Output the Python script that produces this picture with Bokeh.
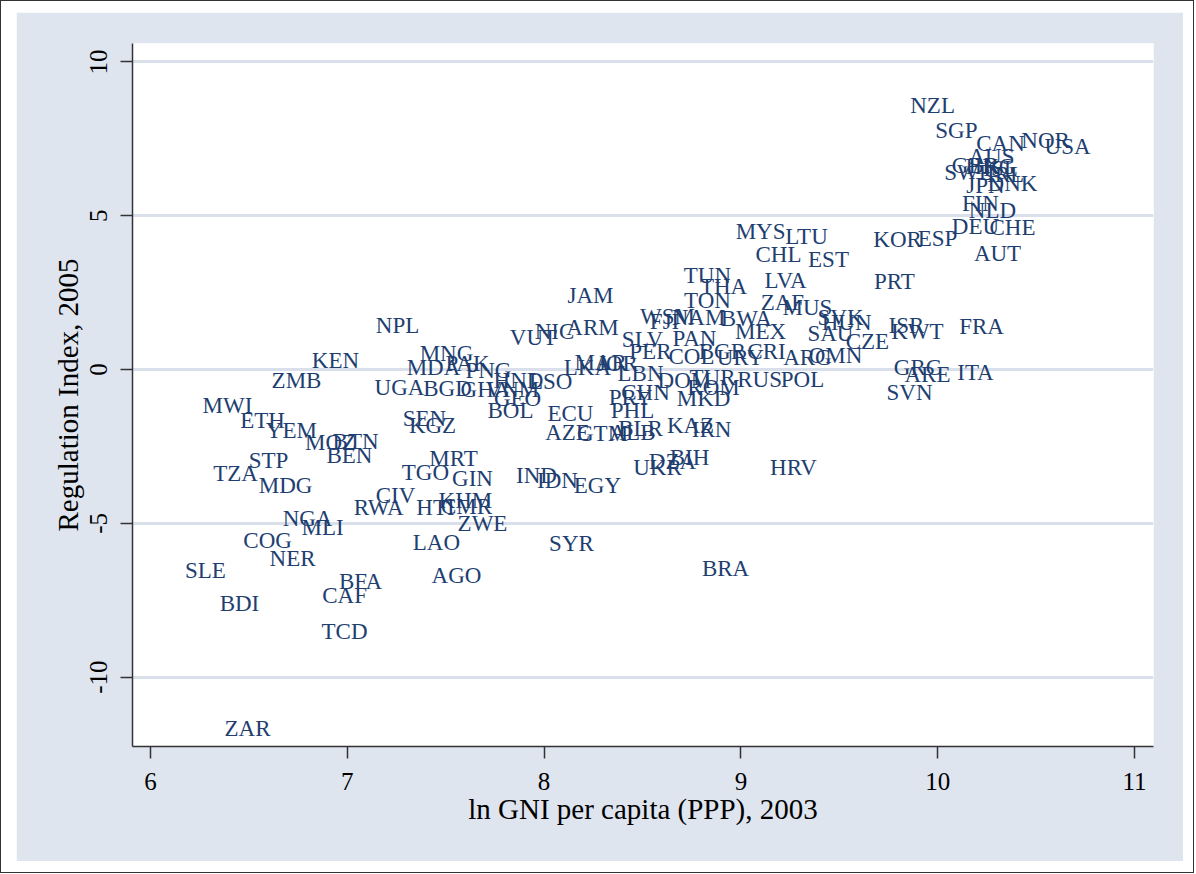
from bokeh.plotting import figure
from bokeh.models import Range1d, FixedTicker, ColumnDataSource, Spacer
from bokeh.layouts import row, column
from bokeh.core.properties import value
from bokeh.embed import file_html
from bokeh.resources import INLINE

countries = ["NZL", "SGP", "CAN", "NOR", "USA", "AUS", "GBR", "HKG", "SWE", "ISL",
             "IRL", "JPN", "DNK", "FIN", "NLD", "DEU", "CHE", "AUT", "KOR", "ESP",
             "PRT", "MYS", "LTU", "CHL", "EST", "TUN", "THA", "LVA", "TON", "ZAF",
             "MUS", "SVK", "HUN", "WSM", "FJI", "NAM", "BWA", "MEX", "SAU", "CZE",
             "ISR", "KWT", "FRA", "OMN", "ARG", "CRI", "BGR", "URY", "PAN", "SLV",
             "PER", "COL", "DOM", "TUR", "ROM", "MKD", "RUS", "POL", "GRC", "ARE",
             "ITA", "SVN", "HRV", "BRA", "IRN", "KAZ", "BIH", "UKR", "DZA", "MNG",
             "MDA", "PAK", "PNG", "HND", "BGD", "GHA", "VNM", "GEO", "LSO", "BOL",
             "LKA", "JOR", "MAR", "ECU", "AZE", "GTM", "ALB", "BLR", "LBN", "CHN",
             "PRY", "PHL", "JAM", "ARM", "NIC", "VUT", "NPL", "KEN", "ZMB", "UGA",
             "MWI", "ETH", "YEM", "MOZ", "BTN", "BEN", "STP", "TZA", "MDG", "SEN",
             "KGZ", "MRT", "TGO", "GIN", "CIV", "RWA", "HTI", "KHM", "CMR", "ZWE",
             "LAO", "SYR", "IND", "IDN", "EGY", "AGO", "NGA", "MLI", "COG", "NER",
             "SLE", "BFA", "CAF", "BDI", "TCD", "ZAR"]

ln_gni = [9.974, 10.095, 10.319, 10.548, 10.660, 10.273, 10.192, 10.268, 10.157, 10.319,
          10.345, 10.243, 10.380, 10.217, 10.278, 10.192, 10.380, 10.304, 9.796, 9.999,
          9.780, 9.100, 9.333, 9.191, 9.445, 8.830, 8.912, 9.227, 8.830, 9.211,
          9.338, 9.506, 9.537, 8.627, 8.612, 8.785, 9.028, 9.100, 9.455, 9.643,
          9.841, 9.897, 10.223, 9.481, 9.338, 9.130, 8.906, 8.997, 8.764, 8.500,
          8.540, 8.749, 8.713, 8.856, 8.861, 8.810, 9.095, 9.313, 9.897, 9.948,
          10.192, 9.857, 9.267, 8.922, 8.851, 8.744, 8.739, 8.576, 8.652, 7.504,
          7.438, 7.611, 7.717, 7.870, 7.509, 7.702, 7.839, 7.865, 8.033, 7.829,
          8.220, 8.373, 8.287, 8.134, 8.119, 8.297, 8.449, 8.490, 8.490, 8.515,
          8.439, 8.449, 8.236, 8.246, 8.053, 7.946, 7.255, 6.940, 6.742, 7.265,
          6.391, 6.569, 6.716, 6.915, 7.042, 7.011, 6.600, 6.432, 6.686, 7.392,
          7.433, 7.540, 7.397, 7.636, 7.245, 7.159, 7.448, 7.600, 7.606, 7.687,
          7.453, 8.139, 7.961, 8.068, 8.271, 7.555, 6.798, 6.874, 6.595, 6.722,
          6.279, 7.067, 6.986, 6.452, 6.986, 6.493]

regulation = [8.58, 7.77, 7.34, 7.44, 7.25, 6.92, 6.63, 6.60, 6.40, 6.53,
              6.34, 5.98, 6.04, 5.39, 5.17, 4.65, 4.61, 3.77, 4.22, 4.26,
              2.86, 4.48, 4.32, 3.74, 3.57, 3.07, 2.70, 2.89, 2.24, 2.18,
              2.01, 1.69, 1.53, 1.72, 1.56, 1.69, 1.66, 1.23, 1.17, 0.91,
              1.43, 1.23, 1.40, 0.455, 0.39, 0.585, 0.585, 0.39, 1.01, 0.975,
              0.585, 0.42, -0.36, -0.26, -0.585, -0.94, -0.33, -0.33, 0.065, -0.16,
              -0.10, -0.75, -3.18, -6.47, -1.95, -1.82, -2.86, -3.18, -2.99, 0.52,
              0.065, 0.195, -0.03, -0.36, -0.62, -0.65, -0.65, -0.94, -0.39, -1.33,
              0.065, 0.195, 0.23, -1.43, -2.05, -2.08, -2.05, -1.92, -0.13, -0.75,
              -0.91, -1.33, 2.40, 1.37, 1.23, 1.04, 1.43, 0.29, -0.36, -0.585,
              -1.17, -1.66, -1.98, -2.37, -2.34, -2.80, -2.96, -3.38, -3.77, -1.59,
              -1.82, -2.89, -3.35, -3.54, -4.09, -4.48, -4.48, -4.26, -4.45, -5.00,
              -5.62, -5.65, -3.44, -3.61, -3.77, -6.69, -4.84, -5.13, -5.56, -6.14,
              -6.53, -6.89, -7.34, -7.60, -8.51, -11.67]

x_ticks = [6, 7, 8, 9, 10, 11]
y_ticks = [-10, -5, 0, 5, 10]
y_tick_labels = ["-10", "-5", "0", "5", "10"]
x_title = "ln GNI per capita (PPP), 2003"
y_title = "Regulation Index, 2005"

BG = "#dfe5ef"
GRID = "#d9e0eb"
LABEL = "#213e70"
FONT = "Liberation Serif"

src = ColumnDataSource(dict(x=ln_gni, y=regulation, code=countries))

p = figure(frame_width=1021, frame_height=703,
           x_range=Range1d(5.9085, 11.0965), y_range=Range1d(-12.253, 10.60),
           output_backend="svg", toolbar_location=None,
           min_border_left=116, min_border_right=30,
           min_border_top=31, min_border_bottom=115,
           background_fill_color="white", border_fill_color=BG,
           outline_line_color=None)

p.text(x="x", y="y", text="code", source=src,
       text_font=value(FONT), text_font_size="23px", text_color=LABEL,
       text_align="center", text_baseline="middle")

p.xgrid.visible = False
p.ygrid.ticker = FixedTicker(ticks=y_ticks)
p.ygrid.grid_line_color = GRID
p.ygrid.grid_line_width = 3

for ax in (p.xaxis[0], p.yaxis[0]):
    ax.axis_line_color = "#333333"
    ax.axis_line_width = 1.5
    ax.major_tick_line_color = "#333333"
    ax.major_tick_line_width = 1.5
    ax.major_tick_out = 12
    ax.major_tick_in = 0
    ax.minor_tick_line_color = None
    ax.major_label_text_font = FONT
    ax.major_label_text_font_size = "25px"
    ax.major_label_text_color = "black"
    ax.axis_label_text_font = FONT
    ax.axis_label_text_font_size = "29px"
    ax.axis_label_text_font_style = "normal"
    ax.axis_label_text_color = "black"

p.xaxis.ticker = FixedTicker(ticks=x_ticks)
p.yaxis.ticker = FixedTicker(ticks=y_ticks)
p.yaxis.major_label_overrides = {t: s for t, s in zip(y_ticks, y_tick_labels)}
p.xaxis.axis_label = x_title
p.yaxis.axis_label = y_title
p.xaxis.major_label_standoff = 14
p.yaxis.major_label_standoff = 13
p.yaxis.major_label_orientation = "vertical"
p.xaxis.axis_label_standoff = 0
p.yaxis.axis_label_standoff = 4

outer = column(Spacer(height=11),
               row(Spacer(width=15), p, Spacer(width=10)),
               Spacer(height=11),
               styles={"border": "1px solid #333333"})

open("out.html", "w").write(file_html(outer, INLINE))
